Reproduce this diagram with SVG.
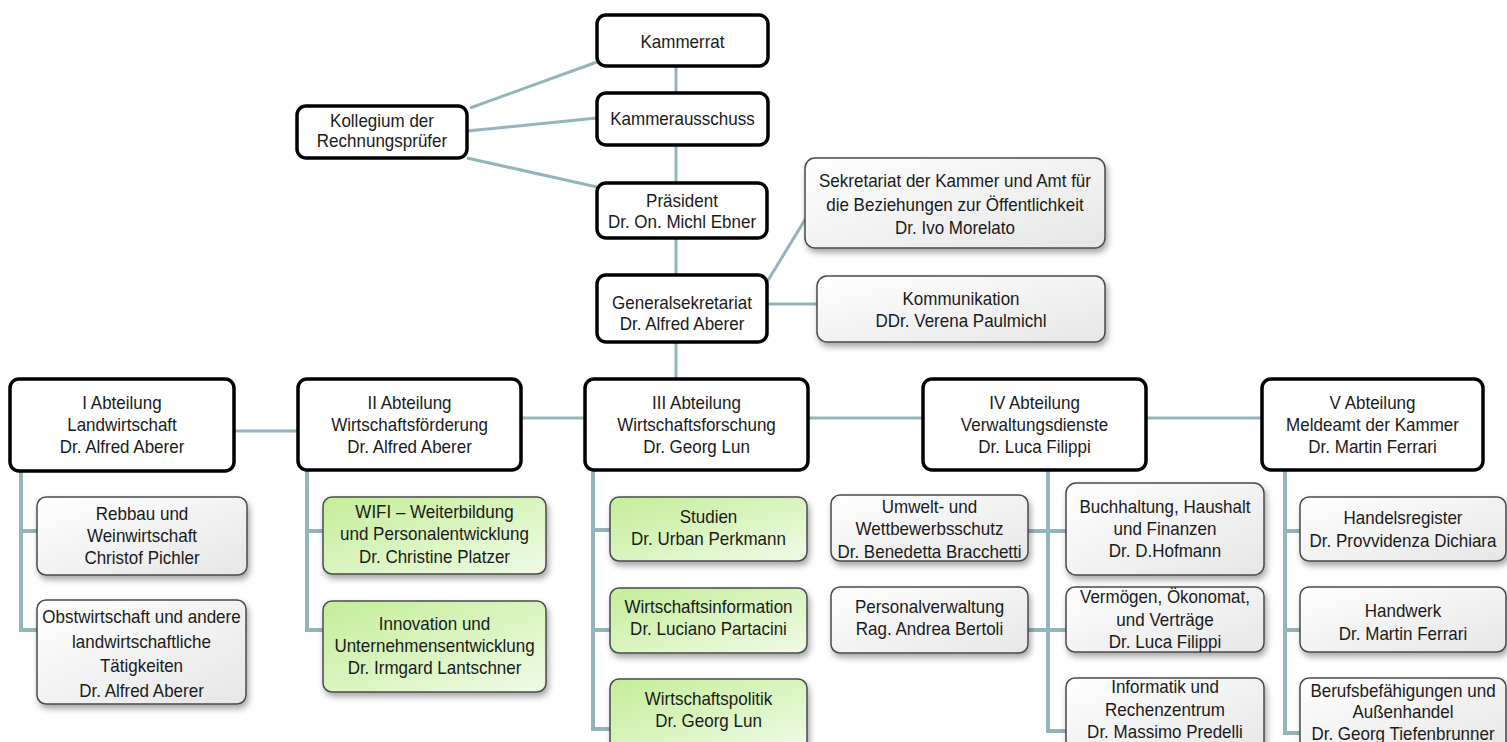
<svg xmlns="http://www.w3.org/2000/svg" width="1507" height="742" viewBox="0 0 1507 742">
<defs>
<linearGradient id="gGray" x1="0" y1="0" x2="1" y2="1">
<stop offset="0" stop-color="#ffffff"/>
<stop offset="1" stop-color="#e6e6e6"/>
</linearGradient>
<linearGradient id="gGreen" x1="0" y1="0" x2="1" y2="1">
<stop offset="0" stop-color="#c3ee98"/>
<stop offset="1" stop-color="#effbe6"/>
</linearGradient>
<filter id="sh" x="-10%" y="-10%" width="130%" height="140%">
<feDropShadow dx="2" dy="4" stdDeviation="3" flood-color="#000" flood-opacity="0.35"/>
</filter>
</defs>
<style>
.main{fill:#fff;stroke:#000;stroke-width:3.5}
.sub{fill:url(#gGray);stroke:#4a4a4a;stroke-width:1.5;filter:url(#sh)}
.green{fill:url(#gGreen);stroke:#4a4a4a;stroke-width:1.5;filter:url(#sh)}
text{font-family:"Liberation Sans",Arial,sans-serif;font-size:17px;fill:#1a1a1a;text-anchor:middle}
.c{fill:none;stroke:#93b5b9;stroke-width:3}
.cv{fill:none;stroke:#93b5b9;stroke-width:4}
</style>
<rect width="1507" height="742" fill="#fff"/>
<g id="connectors">
<path class="c" d="M470 108 L597 62 M467 131 L597 118 M467 158 L597 187"/>
<path class="c" d="M676 66 V93 M676 145 V183 M676 238 V275 M676 342 V379"/>
<path class="c" d="M767 282 L806 218 M767 304 H817"/>
<path class="c" d="M234 431 H298 M521 418 H585 M808 418 H923 M1146 418 H1262"/>
<path class="cv" d="M21 471 V630 H37 M21 531 H37"/>
<path class="cv" d="M307 470 V630 H323 M307 531 H323"/>
<path class="cv" d="M593 470 V729 H610 M593 530 H610 M593 630 H610"/>
<path class="cv" d="M1048 470 V731 H1066 M1048 531 H1066 M1048 630 H1066 M1028 531 H1048 M1028 630 H1048"/>
<path class="cv" d="M1285 470 V733 H1300 M1285 531 H1300 M1285 630 H1300"/>
</g>
<g id="kammerrat"><rect class="main" x="597" y="15" width="171" height="51" rx="9"/>
<text transform="translate(682.5,48) scale(1,1.1)"><tspan x="0" y="0">Kammerrat</tspan></text></g>
<g id="kammerausschuss"><rect class="main" x="597" y="93" width="171" height="52" rx="9"/>
<text transform="translate(682.5,125) scale(1,1.1)"><tspan x="0" y="0">Kammerausschuss</tspan></text></g>
<g id="kollegium"><rect class="main" x="297" y="106" width="170" height="52" rx="9"/>
<text transform="translate(382,127) scale(1,1.1)"><tspan x="0" y="0">Kollegium der</tspan><tspan x="0" y="18.2">Rechnungsprüfer</tspan></text></g>
<g id="praesident"><rect class="main" x="597" y="183" width="170" height="55" rx="9"/>
<text transform="translate(682,207) scale(1,1.1)"><tspan x="0" y="0">Präsident</tspan><tspan x="0" y="19.1">Dr. On. Michl Ebner</tspan></text></g>
<g id="generalsekretariat"><rect class="main" x="597" y="275" width="170" height="67" rx="9"/>
<text transform="translate(682,309) scale(1,1.1)"><tspan x="0" y="0">Generalsekretariat</tspan><tspan x="0" y="19.1">Dr. Alfred Aberer</tspan></text></g>
<g id="sekretariat"><rect class="sub" x="805" y="158" width="300" height="90" rx="10"/>
<text transform="translate(955,187) scale(1,1.1)"><tspan x="0" y="0">Sekretariat der Kammer und Amt für</tspan><tspan x="0" y="21.4">die Beziehungen zur Öffentlichkeit</tspan><tspan x="0" y="42.3">Dr. Ivo Morelato</tspan></text></g>
<g id="kommunikation"><rect class="sub" x="817" y="276" width="288" height="66" rx="10"/>
<text transform="translate(961,305) scale(1,1.1)"><tspan x="0" y="0">Kommunikation</tspan><tspan x="0" y="20">DDr. Verena Paulmichl</tspan></text></g>
<g id="abt1"><rect class="main" x="10" y="379" width="224" height="92" rx="9"/>
<text transform="translate(122,409) scale(1,1.1)"><tspan x="0" y="0">I Abteilung</tspan><tspan x="0" y="20">Landwirtschaft</tspan><tspan x="0" y="40">Dr. Alfred Aberer</tspan></text></g>
<g id="abt2"><rect class="main" x="298" y="379" width="223" height="91" rx="9"/>
<text transform="translate(409.5,409) scale(1,1.1)"><tspan x="0" y="0">II Abteilung</tspan><tspan x="0" y="20">Wirtschaftsförderung</tspan><tspan x="0" y="40">Dr. Alfred Aberer</tspan></text></g>
<g id="abt3"><rect class="main" x="585" y="379" width="223" height="91" rx="9"/>
<text transform="translate(696.5,409) scale(1,1.1)"><tspan x="0" y="0">III Abteilung</tspan><tspan x="0" y="20">Wirtschaftsforschung</tspan><tspan x="0" y="40">Dr. Georg Lun</tspan></text></g>
<g id="abt4"><rect class="main" x="923" y="379" width="223" height="91" rx="9"/>
<text transform="translate(1034.5,409) scale(1,1.1)"><tspan x="0" y="0">IV Abteilung</tspan><tspan x="0" y="20">Verwaltungsdienste</tspan><tspan x="0" y="40">Dr. Luca Filippi</tspan></text></g>
<g id="abt5"><rect class="main" x="1262" y="379" width="221" height="91" rx="9"/>
<text transform="translate(1372.5,409) scale(1,1.1)"><tspan x="0" y="0">V Abteilung</tspan><tspan x="0" y="20">Meldeamt der Kammer</tspan><tspan x="0" y="40">Dr. Martin Ferrari</tspan></text></g>
<g id="rebbau"><rect class="sub" x="37" y="497" width="210" height="78" rx="9"/>
<text transform="translate(142,520) scale(1,1.1)"><tspan x="0" y="0">Rebbau und</tspan><tspan x="0" y="20">Weinwirtschaft</tspan><tspan x="0" y="40">Christof Pichler</tspan></text></g>
<g id="obstwirtschaft"><rect class="sub" x="37" y="600" width="209" height="104" rx="9"/>
<text transform="translate(141.5,623) scale(1,1.1)"><tspan x="0" y="0">Obstwirtschaft und andere</tspan><tspan x="0" y="22.3">landwirtschaftliche</tspan><tspan x="0" y="44.5">Tätigkeiten</tspan><tspan x="0" y="67.3">Dr. Alfred Aberer</tspan></text></g>
<g id="wifi"><rect class="green" x="323" y="497" width="223" height="77" rx="9"/>
<text transform="translate(434.5,518) scale(1,1.1)"><tspan x="0" y="0">WIFI – Weiterbildung</tspan><tspan x="0" y="20">und Personalentwicklung</tspan><tspan x="0" y="40.9">Dr. Christine Platzer</tspan></text></g>
<g id="innovation"><rect class="green" x="323" y="601" width="223" height="91" rx="9"/>
<text transform="translate(434.5,630) scale(1,1.1)"><tspan x="0" y="0">Innovation und</tspan><tspan x="0" y="20">Unternehmensentwicklung</tspan><tspan x="0" y="40">Dr. Irmgard Lantschner</tspan></text></g>
<g id="studien"><rect class="green" x="610" y="497" width="197" height="64" rx="9"/>
<text transform="translate(708.5,523) scale(1,1.1)"><tspan x="0" y="0">Studien</tspan><tspan x="0" y="20">Dr. Urban Perkmann</tspan></text></g>
<g id="wirtschaftsinformation"><rect class="green" x="610" y="588" width="197" height="65" rx="9"/>
<text transform="translate(708.5,613) scale(1,1.1)"><tspan x="0" y="0">Wirtschaftsinformation</tspan><tspan x="0" y="20">Dr. Luciano Partacini</tspan></text></g>
<g id="wirtschaftspolitik"><rect class="green" x="610" y="679" width="197" height="72" rx="9"/>
<text transform="translate(708.5,705) scale(1,1.1)"><tspan x="0" y="0">Wirtschaftspolitik</tspan><tspan x="0" y="20">Dr. Georg Lun</tspan></text></g>
<g id="umwelt"><rect class="sub" x="831" y="495" width="197" height="66" rx="9"/>
<text transform="translate(929.5,513) scale(1,1.1)"><tspan x="0" y="0">Umwelt- und</tspan><tspan x="0" y="20">Wettbewerbsschutz</tspan><tspan x="0" y="40.9">Dr. Benedetta Bracchetti</tspan></text></g>
<g id="personalverwaltung"><rect class="sub" x="831" y="587" width="197" height="66" rx="9"/>
<text transform="translate(929.5,613) scale(1,1.1)"><tspan x="0" y="0">Personalverwaltung</tspan><tspan x="0" y="20">Rag. Andrea Bertoli</tspan></text></g>
<g id="buchhaltung"><rect class="sub" x="1066" y="483" width="198" height="92" rx="10"/>
<text transform="translate(1165,513) scale(1,1.1)"><tspan x="0" y="0">Buchhaltung, Haushalt</tspan><tspan x="0" y="20">und Finanzen</tspan><tspan x="0" y="40">Dr. D.Hofmann</tspan></text></g>
<g id="vermoegen"><rect class="sub" x="1066" y="587" width="198" height="65" rx="9"/>
<text transform="translate(1165,603) scale(1,1.1)"><tspan x="0" y="0">Vermögen, Ökonomat,</tspan><tspan x="0" y="20.9">und Verträge</tspan><tspan x="0" y="40.9">Dr. Luca Filippi</tspan></text></g>
<g id="informatik"><rect class="sub" x="1066" y="678" width="198" height="74" rx="9"/>
<text transform="translate(1165,693) scale(1,1.1)"><tspan x="0" y="0">Informatik und</tspan><tspan x="0" y="20.9">Rechenzentrum</tspan><tspan x="0" y="40.9">Dr. Massimo Predelli</tspan></text></g>
<g id="handelsregister"><rect class="sub" x="1300" y="497" width="206" height="64" rx="9"/>
<text transform="translate(1403,524) scale(1,1.1)"><tspan x="0" y="0">Handelsregister</tspan><tspan x="0" y="20.9">Dr. Provvidenza Dichiara</tspan></text></g>
<g id="handwerk"><rect class="sub" x="1300" y="587" width="206" height="65" rx="9"/>
<text transform="translate(1403,617) scale(1,1.1)"><tspan x="0" y="0">Handwerk</tspan><tspan x="0" y="20.9">Dr. Martin Ferrari</tspan></text></g>
<g id="berufsbefaehigungen"><rect class="sub" x="1300" y="678" width="206" height="74" rx="9"/>
<text transform="translate(1403,697) scale(1,1.1)"><tspan x="0" y="0">Berufsbefähigungen und</tspan><tspan x="0" y="19.1">Außenhandel</tspan><tspan x="0" y="39.1">Dr. Georg Tiefenbrunner</tspan></text></g>
</svg>
